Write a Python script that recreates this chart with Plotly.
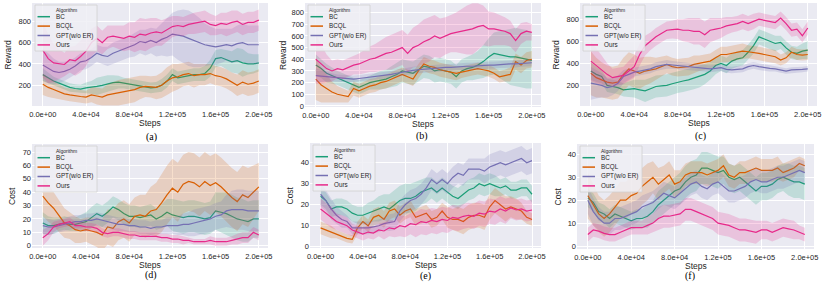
import plotly.graph_objects as go

W, H = 830, 286

STEPS = [0, 5000, 10000, 15000, 20000, 25000, 30000, 35000, 40000, 45000,
         50000, 55000, 60000, 65000, 70000, 75000, 80000, 85000, 90000, 95000,
         100000, 105000, 110000, 115000, 120000, 125000, 130000, 135000, 140000, 145000,
         150000, 155000, 160000, 165000, 170000, 175000, 180000, 185000, 190000, 195000, 200000]

ALGORITHMS = ["BC", "BCQL", "GPT(w/o ER)", "Ours"]
COLORS = ["#1b9e77", "#d95f02", "#7570b3", "#e7298a"]
FILLS = ["rgba(27,158,119,0.2)", "rgba(217,95,2,0.2)", "rgba(117,112,179,0.2)", "rgba(231,41,138,0.2)"]

X_TICKS = [0, 40000, 80000, 120000, 160000, 200000]
X_TICK_LABELS = ["0.0e+00", "4.0e+04", "8.0e+04", "1.2e+05", "1.6e+05", "2.0e+05"]

# ---- (a) Reward ----
A_BC = [300,270,240,220,200,180,170,165,175,180,190,200,215,225,230,220,210,200,195,185,175,180,200,240,300,270,280,290,300,300,310,360,450,460,440,420,430,410,400,400,410]
A_BC_ERR = [60,50,40,40,40,40,40,40,50,60,80,80,80,70,60,50,50,50,50,50,50,50,60,60,60,60,60,60,60,60,70,80,80,80,90,100,120,130,100,90,80]
A_BCQL = [210,180,160,140,120,110,100,95,90,110,100,90,110,120,130,140,150,160,180,190,185,180,200,240,270,280,300,310,290,300,300,310,290,280,260,230,200,230,210,220,240]
A_BCQL_ERR = [100,90,80,70,60,60,60,60,60,70,80,80,100,110,120,120,120,120,110,100,100,110,120,130,130,120,110,110,110,100,100,90,90,90,90,90,100,110,110,110,110]
A_GPT = [390,360,330,320,330,350,380,420,430,460,500,480,470,500,520,540,560,580,610,600,620,600,630,650,680,670,660,640,620,600,580,570,560,570,580,570,590,600,580,580,580]
A_GPT_ERR = [150,140,120,100,90,80,80,80,80,80,80,80,90,100,100,100,100,110,110,120,120,130,150,180,200,230,250,260,250,230,200,180,170,160,150,160,170,180,180,180,180]
A_OURS = [530,450,410,400,395,440,430,470,520,600,640,600,650,660,650,640,660,650,680,670,690,700,690,720,750,760,750,770,780,790,800,770,760,780,770,790,800,770,790,790,810]
A_OURS_ERR = [260,230,180,140,110,120,140,150,140,130,120,110,110,100,110,120,130,140,150,150,140,130,120,110,100,90,90,90,100,100,100,100,90,100,110,110,100,100,100,100,100]

# ---- (b) Reward ----
B_BC = [350,320,280,260,240,220,200,180,160,180,200,210,220,230,250,270,300,290,280,310,340,330,300,310,300,290,250,300,320,330,350,380,420,450,440,430,420,420,410,400,390]
B_BC_ERR = [90,80,80,70,60,60,60,60,60,60,60,70,80,80,90,100,100,100,100,100,100,100,100,100,100,100,100,100,100,110,120,140,160,180,200,220,240,250,250,250,240]
B_BCQL = [230,180,150,120,100,90,80,150,130,150,170,180,200,210,230,250,270,250,230,300,360,340,330,310,300,290,280,290,300,310,320,310,300,280,250,260,270,380,350,390,400]
B_BCQL_ERR = [180,150,120,90,70,60,50,60,60,60,60,60,60,60,60,60,60,60,60,60,60,60,60,60,60,60,60,50,50,50,50,50,50,50,50,50,60,70,70,70,70]
B_GPT = [260,255,250,245,240,235,230,230,235,240,245,255,260,265,270,280,290,300,305,310,315,320,320,325,330,330,335,335,340,340,345,345,350,350,355,355,360,360,365,370,370]
B_GPT_ERR = [60,50,40,35,30,30,30,30,30,30,30,30,30,30,30,30,30,30,30,30,30,30,30,30,30,30,30,30,30,30,30,30,30,30,30,30,30,30,30,30,30]
B_OURS = [400,360,320,300,320,310,330,350,360,380,400,410,430,450,460,480,500,450,500,520,550,570,600,580,600,620,630,640,650,660,680,690,660,660,650,640,620,560,620,640,630]
B_OURS_ERR = [210,170,120,90,80,80,80,80,90,100,110,120,130,140,150,150,150,160,170,180,190,190,180,170,160,160,170,190,210,220,200,170,150,140,130,120,110,100,90,80,70]

# ---- (c) Reward ----
C_BC = [330,300,280,200,190,180,160,165,170,160,150,170,190,195,200,215,230,240,250,265,280,300,330,380,400,380,420,440,450,500,560,640,620,600,580,590,540,500,490,510,520]
C_BC_ERR = [80,70,60,60,60,60,60,70,80,90,100,100,100,100,100,100,100,100,100,100,100,90,80,80,70,70,70,70,70,70,70,70,70,70,70,60,60,60,60,70,80]
C_BCQL = [310,270,250,230,220,230,300,350,330,310,330,340,350,370,390,370,360,365,370,390,400,410,420,450,480,480,490,500,510,505,500,490,480,470,460,430,450,500,480,475,480]
C_BCQL_ERR = [200,180,160,150,150,150,150,150,150,140,130,120,100,90,80,80,80,80,80,80,70,70,70,70,70,70,70,70,70,60,60,60,60,60,60,50,50,50,50,50,50]
C_GPT = [220,210,200,180,190,220,280,300,320,330,340,350,370,380,390,385,380,375,370,365,360,355,350,355,360,345,340,345,350,370,380,370,360,355,350,340,330,340,340,345,350]
C_GPT_ERR = [150,130,110,90,80,70,60,50,40,40,40,40,40,40,40,35,35,35,35,35,30,30,30,30,30,30,30,30,30,30,30,30,30,30,25,25,25,25,25,25,25]
C_OURS = [420,380,340,300,270,280,290,330,370,480,560,600,640,670,700,705,710,700,700,690,690,660,700,710,720,740,750,760,780,760,780,800,790,780,770,810,760,700,710,650,720]
C_OURS_ERR = [180,160,130,100,80,80,80,90,100,100,90,80,80,80,80,80,90,100,110,120,120,120,110,100,90,80,70,70,70,70,70,60,60,60,60,60,60,60,60,60,60]

# ---- (d) Cost ----
D_BC = [17,15,15,16,17,16,16,17,18,21,24,22,25,29,27,24,22,22,21,22,23,20,22,25,23,22,21,22,22,21,20,21,26,25,24,22,20,19,18,20,20]
D_BC_ERR = [8,7,6,5,5,5,5,6,7,8,8,8,8,8,8,8,8,8,8,8,8,8,9,10,12,12,12,12,12,12,12,12,14,15,16,16,16,16,15,14,14]
D_BCQL = [37,32,28,22,17,15,12,11,12,11,10,8,14,13,18,20,17,22,23,22,26,27,32,38,43,40,46,48,47,44,48,45,47,44,40,36,33,38,36,40,44]
D_BCQL_ERR = [15,14,13,12,11,10,10,9,9,10,11,12,13,14,14,14,14,14,15,16,18,20,22,22,22,22,22,22,22,22,22,22,22,22,22,22,22,22,22,20,18]
D_GPT = [15,14,14,15,16,17,18,18,19,19,20,19,18,17,16,16,15,15,14,14,13,14,14,15,15,15,16,16,17,18,19,20,22,23,26,27,27,27,26,26,26]
D_GPT_ERR = [6,6,5,5,5,5,5,5,5,5,5,5,5,5,5,5,5,5,5,5,5,5,5,6,6,7,8,9,10,10,10,10,10,10,12,14,15,15,15,15,15]
D_OURS = [6,9,14,16,17,18,15,15,14,14,13,10,9,10,10,9,8,8,7,7,7,7,6,6,5,5,4,4,3,3,3,4,3,3,3,4,5,6,6,10,8]
D_OURS_ERR = [6,5,4,3,3,3,3,3,3,3,3,3,3,3,3,3,3,3,3,3,3,3,3,3,3,3,3,2,2,2,2,3,3,3,3,3,4,4,4,4,4]

# ---- (e) Cost ----
E_BC = [24,22,18,19,19,18,16,15,15,16,17,18,19,18,20,22,23,23,24,26,27,28,26,28,26,24,23,25,27,28,30,29,30,29,28,29,27,27,28,28,25]
E_BC_ERR = [4,4,4,4,4,4,4,4,4,5,5,6,6,7,7,7,7,7,7,6,6,5,5,5,5,5,5,5,5,5,5,5,5,5,4,4,4,4,4,4,4]
E_BCQL = [9,8,7,6,5,4,3.5,9,12,10,14,15,13,17,18,15,17,18,14,15,16,13,14,17,14,13,13,12,14,15,15,14,19,22,20,18,19,18,17,14,13]
E_BCQL_ERR = [3,3,3,2,2,2,2,3,3,3,4,4,4,4,4,4,4,4,4,4,4,4,4,4,5,5,6,6,6,6,6,6,6,6,6,6,5,5,4,3,3]
E_GPT = [25,22,18,15,13,12,9,9,9,9,9.5,10,11,11.5,12,17,20,22,23,25,28,32,30,32,30,33,35,34,37,37,37,36,38,39,40,39,40,41,42,40,41]
E_GPT_ERR = [6,5,5,4,4,3,3,3,3,3,3,3,3,4,4,5,5,5,5,5,5,5,5,5,5,5,5,5,5,5,5,6,6,6,6,6,6,6,6,6,6]
E_OURS = [18,16,14,12,11,10,8,7,6,7,6.5,8,7.5,9,8.5,10,9.5,11,10.5,12,11.5,12.5,12,13,12.5,14,13.5,14.5,15,14.5,16,15.5,17,16.5,18,17,18.5,17.5,18,17,17.5]
E_OURS_ERR = [5,5,5,4,4,4,3,3,3,3,3,3,4,4,4,5,5,5,6,6,6,6,6,6,6,6,6,6,6,6,6,6,6,6,6,6,5,5,5,5,5]

# ---- (f) Cost ----
F_BC = [21,19,15,14,12,14,13,12,11,12,12,13,15,18,20,22,24,25,28,30,31,34,34,33,32,33,30,29,30,28,26,24,26,26,27,29,30,29,28,28,27]
F_BC_ERR = [4,4,4,4,4,4,4,4,4,4,4,5,5,6,6,6,6,7,7,7,7,7,7,7,7,6,6,6,6,6,6,6,6,6,6,6,6,7,7,7,7]
F_BCQL = [22,18,14,12,14,17,20,20,22,23,26,28,30,27,29,31,27,28,31,32,32,32,31,32,33,35,31,30,32,32,33,34,33,33,33,34,32,33,34,36,35]
F_BCQL_ERR = [10,9,8,8,8,8,8,8,8,8,8,8,7,7,6,6,6,5,5,5,5,5,5,5,5,5,5,5,5,5,5,5,5,5,5,5,4,4,4,3,3]
F_GPT = [20,15,12,10,10,12,12,13,14,15,17,18,19,21,23,22,21,23,25,27,28,26,25,27,28,26,24,24,25,26,28,29,28,28,29,30,30,31,32,33,32]
F_GPT_ERR = [6,6,5,5,5,5,5,5,5,5,5,5,5,5,5,5,5,5,5,5,5,5,5,5,5,5,5,5,5,5,5,5,5,5,5,5,5,5,5,5,5]
F_OURS = [5,7,6.5,5.5,5,5,6,7,8,8,8,9,10,12,13,13,13.5,14,16,16,15,14,13,12,10,9.5,9,8,7,7,6.5,6,7,7,6,7,8,7.5,7,6,5]
F_OURS_ERR = [3,3,3,3,3,3,3,3,3,3,3,4,4,5,5,5,5,5,5,5,5,5,5,5,5,5,5,5,5,5,5,5,4,4,4,4,4,4,4,3,3]

PANELS = [
    dict(caption="(a)", ytitle="Reward", yticks=[200, 400, 600, 800], yrange=[6, 971],
         series=[(A_BC, A_BC_ERR), (A_BCQL, A_BCQL_ERR), (A_GPT, A_GPT_ERR), (A_OURS, A_OURS_ERR)]),
    dict(caption="(b)", ytitle="Reward", yticks=[0, 100, 200, 300, 400, 500, 600, 700, 800], yrange=[-9, 882],
         series=[(B_BC, B_BC_ERR), (B_BCQL, B_BCQL_ERR), (B_GPT, B_GPT_ERR), (B_OURS, B_OURS_ERR)]),
    dict(caption="(c)", ytitle="Reward", yticks=[200, 400, 600, 800], yrange=[13, 947],
         series=[(C_BC, C_BC_ERR), (C_BCQL, C_BCQL_ERR), (C_GPT, C_GPT_ERR), (C_OURS, C_OURS_ERR)]),
    dict(caption="(d)", ytitle="Cost", yticks=[0, 10, 20, 30, 40, 50, 60, 70], yrange=[-1.7, 76],
         series=[(D_BC, D_BC_ERR), (D_BCQL, D_BCQL_ERR), (D_GPT, D_GPT_ERR), (D_OURS, D_OURS_ERR)]),
    dict(caption="(e)", ytitle="Cost", yticks=[0, 10, 20, 30, 40], yrange=[-0.6, 49.4],
         series=[(E_BC, E_BC_ERR), (E_BCQL, E_BCQL_ERR), (E_GPT, E_GPT_ERR), (E_OURS, E_OURS_ERR)]),
    dict(caption="(f)", ytitle="Cost", yticks=[0, 10, 20, 30, 40], yrange=[-1.3, 44.5],
         series=[(F_BC, F_BC_ERR), (F_BCQL, F_BCQL_ERR), (F_GPT, F_GPT_ERR), (F_OURS, F_OURS_ERR)]),
]

# pixel geometry of each plot area: left, right, top, bottom, caption x, caption y
GEOM = [
    (32, 268, 3, 106, 151, 137),
    (305, 541, 3, 107, 422, 136),
    (580, 817, 3, 106, 700, 136),
    (32, 268, 144, 248, 151, 275),
    (310, 541, 143, 248, 425, 276),
    (577, 814, 144, 249, 690, 276),
]
# x position of the y-axis title per panel
YTITLE_X = [8, 283, 556, 12, 289, 557]
X_RANGE = [-10000, 208500]

SANS = "Liberation Sans, Arial, sans-serif"
SERIF = "Liberation Serif, Times New Roman, serif"
TXT = "#262626"

for p in PANELS:
    for m, e in p["series"]:
        assert len(m) == len(STEPS) and len(e) == len(STEPS), p["caption"]

fig = go.Figure()
shapes = []
annotations = []

def px(x):
    return x / W

def py(y):
    return 1 - y / H

for k, (p, g, ytx) in enumerate(zip(PANELS, GEOM, YTITLE_X), start=1):
    x0, x1, y0, y1, cx, cy = g
    xa, ya = f"x{k}", f"y{k}"
    for (m, e), color, fill, name in zip(p["series"], COLORS, FILLS, ALGORITHMS):
        upper = [a + b for a, b in zip(m, e)]
        lower = [a - b for a, b in zip(m, e)]
        fig.add_trace(go.Scatter(x=STEPS + STEPS[::-1], y=upper + lower[::-1], fill="toself",
                                 fillcolor=fill, line=dict(width=0), mode="lines",
                                 hoverinfo="skip", showlegend=False, xaxis=xa, yaxis=ya))
        fig.add_trace(go.Scatter(x=STEPS, y=m, mode="lines", name=name,
                                 line=dict(color=color, width=1.2), showlegend=False,
                                 xaxis=xa, yaxis=ya))
    fig.layout[f"xaxis{k}"] = dict(
        domain=[px(x0), px(x1)], range=X_RANGE, anchor=ya,
        tickvals=X_TICKS, ticktext=X_TICK_LABELS, ticks="", ticklen=0, ticklabelstandoff=2,
        showgrid=True, gridcolor="white", gridwidth=1, zeroline=False, showline=False,
        tickfont=dict(family=SANS, size=7.5, color=TXT),
        automargin=False,
    )
    fig.layout[f"yaxis{k}"] = dict(
        domain=[py(y1), py(y0)], range=p["yrange"], anchor=xa,
        tickvals=p["yticks"], ticks="", ticklen=0,
        showgrid=True, gridcolor="white", gridwidth=1, zeroline=False, showline=False,
        tickfont=dict(family=SANS, size=7.5, color=TXT),
        automargin=False,
    )
    # axis titles
    annotations.append(dict(text="Steps", x=px((x0 + x1) / 2), y=py(y1 + 17), xref="paper", yref="paper",
                            showarrow=False, xanchor="center", yanchor="middle",
                            font=dict(family=SANS, size=8.5, color=TXT)))
    annotations.append(dict(text=p["ytitle"], x=px(ytx), y=py((y0 + y1) / 2), xref="paper", yref="paper",
                            showarrow=False, xanchor="center", yanchor="middle", textangle=-90,
                            font=dict(family=SANS, size=8.5, color=TXT)))
    # caption
    annotations.append(dict(text=p["caption"], x=px(cx), y=py(cy), xref="paper", yref="paper",
                            showarrow=False, xanchor="center", yanchor="middle",
                            font=dict(family=SERIF, size=10, color="#000000")))
    # legend box
    bl, bt = x0 + 3, y0 + 2
    shapes.append(dict(type="rect", xref="paper", yref="paper",
                       x0=px(bl), x1=px(bl + 62), y0=py(bt + 46), y1=py(bt),
                       fillcolor="rgba(238,238,244,0.85)", line=dict(color="#d0d0d0", width=0.8),
                       layer="above"))
    annotations.append(dict(text="Algorithm", x=px(bl + 31), y=py(bt + 4.5), xref="paper", yref="paper",
                            showarrow=False, xanchor="center", yanchor="middle",
                            font=dict(family=SANS, size=5, color=TXT)))
    for j, (name, color) in enumerate(zip(ALGORITHMS, COLORS)):
        yy = bt + 11.7 + 9.4 * j
        shapes.append(dict(type="line", xref="paper", yref="paper",
                           x0=px(bl + 2.5), x1=px(bl + 15), y0=py(yy), y1=py(yy),
                           line=dict(color=color, width=1.5), layer="above"))
        annotations.append(dict(text=name, x=px(bl + 19), y=py(yy), xref="paper", yref="paper",
                                showarrow=False, xanchor="left", yanchor="middle",
                                font=dict(family=SANS, size=6.3, color=TXT)))

fig.update_layout(
    width=W, height=H, margin=dict(l=0, r=0, t=0, b=0),
    paper_bgcolor="white", plot_bgcolor="#EAEAF2",
    showlegend=False, shapes=shapes, annotations=annotations,
)

fig.write_html("out.html", config={"displayModeBar": False},
               post_script="document.body.style.margin='0px';")
